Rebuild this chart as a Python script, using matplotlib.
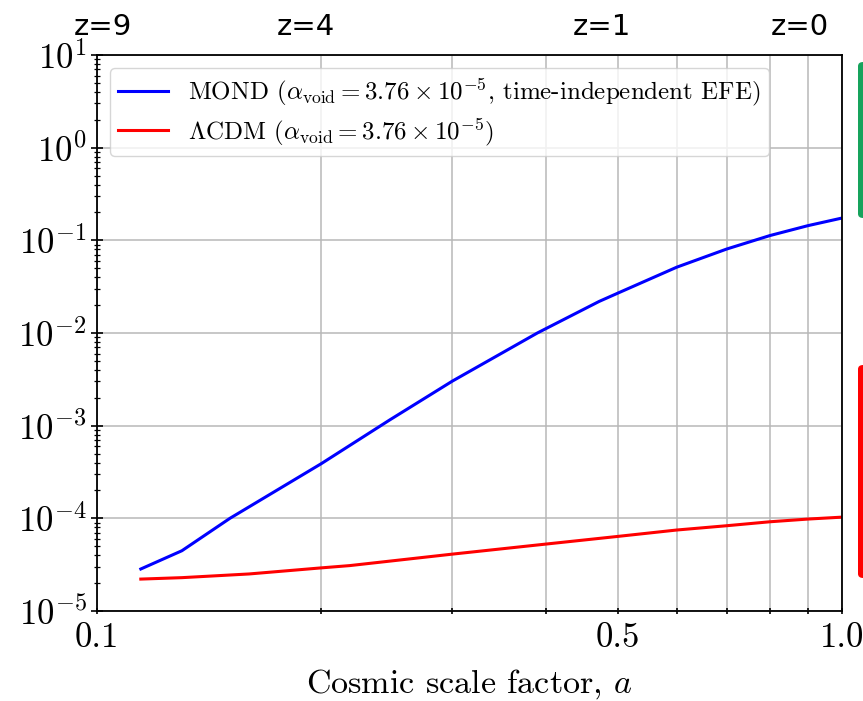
import matplotlib
matplotlib.use("Agg")
import matplotlib.pyplot as plt
from matplotlib.patches import FancyBboxPatch
from matplotlib.ticker import LogLocator, NullFormatter, FixedLocator, FixedFormatter

plt.rcParams.update({
    "font.family": "cmr10",
    "mathtext.fontset": "cm",
    "axes.formatter.use_mathtext": True,
    "axes.unicode_minus": True,
})

# MOND void growth curve
a_mond = [0.1145, 0.13, 0.1508, 0.2, 0.247, 0.3, 0.39, 0.472, 0.5, 0.6, 0.7, 0.8, 0.9, 1.0]
delta_mond = [2.84e-5, 4.47e-5, 1.0e-4, 3.89e-4, 1.15e-3, 3.03e-3, 1.0e-2, 2.19e-2,
              2.69e-2, 5.13e-2, 8.05e-2, 1.125e-1, 1.44e-1, 1.74e-1]

# LCDM void growth curve
a_lcdm = [0.1145, 0.13, 0.16, 0.2, 0.2184, 0.3, 0.4, 0.5, 0.6, 0.7, 0.8, 0.9, 1.0]
delta_lcdm = [2.21e-5, 2.29e-5, 2.51e-5, 2.92e-5, 3.09e-5, 4.11e-5, 5.27e-5, 6.38e-5,
              7.48e-5, 8.32e-5, 9.18e-5, 9.82e-5, 1.03e-4]

label_mond = r"MOND ($\alpha_{\rm void} = 3.76 \times 10^{-5}$, time-independent EFE)"
label_lcdm = r"$\Lambda$CDM ($\alpha_{\rm void} = 3.76 \times 10^{-5}$)"

x_ticks = [0.1, 0.2, 0.3, 0.4, 0.5, 0.6, 0.7, 0.8, 0.9, 1.0]
x_ticklabels = ["0.1", "", "", "", "0.5", "", "", "", "", "1.0"]

redshift_labels = ["z=9", "z=4", "z=1", "z=0"]
redshift_xpos = [103, 306, 602, 800]  # pixel centres across the top

W, H = 863, 701
fig = plt.figure(figsize=(W / 100, H / 100), dpi=100)
ax = fig.add_axes([97 / W, 1 - 611 / H, 745 / W, 556 / H])

ax.plot(a_mond, delta_mond, color="blue", lw=2.2, label=label_mond)
ax.plot(a_lcdm, delta_lcdm, color="red", lw=2.2, label=label_lcdm)

ax.set_xscale("log")
ax.set_yscale("log")
ax.set_xlim(0.1, 1.0)
ax.set_ylim(1e-5, 1e1)

ax.xaxis.set_major_locator(FixedLocator(x_ticks))
ax.xaxis.set_major_formatter(FixedFormatter(x_ticklabels))
ax.xaxis.set_minor_locator(FixedLocator([]))
ax.yaxis.set_major_locator(LogLocator(base=10, numticks=20))
ax.yaxis.set_minor_locator(LogLocator(base=10, subs=range(2, 10), numticks=20))
ax.yaxis.set_minor_formatter(NullFormatter())

ax.tick_params(axis="both", which="major", labelsize=25, direction="inout",
               length=8, width=1.2)
ax.tick_params(axis="y", which="minor", direction="inout", length=4, width=0.9)
ax.tick_params(axis="x", which="major", length=5, pad=6)

ax.grid(True, which="major", color="#b8b8b8", lw=1.1)
for s in ax.spines.values():
    s.set_linewidth(1.3)

ax.set_xlabel(r"Cosmic scale factor, $a$", fontsize=24.5, labelpad=9)

leg = ax.legend(loc="upper left", fontsize=18, handlelength=2.0,
                framealpha=0.8, edgecolor="#cccccc", borderpad=0.35,
                labelspacing=0.3, handletextpad=0.8,
                bbox_to_anchor=(0.0, 1.0))
leg.get_frame().set_linewidth(1.0)

for txt, xp in zip(redshift_labels, redshift_xpos):
    fig.text(xp / W, 1 - 27 / H, txt, family="DejaVu Sans", fontsize=21,
             ha="center", va="center")

# coloured markers at the right edge
fig.patches.append(FancyBboxPatch((858 / W, 1 - 218 / H), 20 / W, 156 / H,
                                  boxstyle="round,pad=0,rounding_size=0.006",
                                  transform=fig.transFigure, facecolor="#16a35c",
                                  edgecolor="none", figure=fig))
fig.patches.append(FancyBboxPatch((858 / W, 1 - 578 / H), 20 / W, 213 / H,
                                  boxstyle="round,pad=0,rounding_size=0.006",
                                  transform=fig.transFigure, facecolor="#ff0000",
                                  edgecolor="none", figure=fig))

fig.savefig("out.png", dpi=100)
